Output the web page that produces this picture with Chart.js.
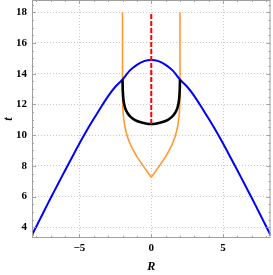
<!DOCTYPE html>
<html>
<head>
<meta charset="utf-8">
<script src="https://cdn.jsdelivr.net/npm/chart.js@4"></script>
<style>
  html, body { margin: 0; padding: 0; background: #fff; }
</style>
</head>
<body>
<canvas id="chart" width="273" height="275"></canvas>
<script>
// values
const blueR = [-8.3, -8, -7.5, -7, -6.5, -6, -5.5, -5, -4.5, -4, -3.5, -3, -2.5, -2, -1.5, -1, -0.5, 0,
  0.5, 1, 1.5, 2, 2.5, 3, 3.5, 4, 4.5, 5, 5.5, 6, 6.5, 7, 7.5, 8, 8.3];
const blueT = [3.5, 4.05, 4.98, 5.9, 6.8, 7.7, 8.58, 9.45, 10.28, 11.06, 11.82, 12.54, 13.15, 13.62, 14.2, 14.58, 14.82, 14.9,
  14.82, 14.58, 14.2, 13.62, 13.15, 12.54, 11.82, 11.06, 10.28, 9.45, 8.58, 7.7, 6.8, 5.9, 4.98, 4.05, 3.5];

// orange curve, left and right branches meeting in the cusp at R = 0
const orangeLeftR = [-2, -2, -2, -1.99, -1.96, -1.9, -1.8, -1.67, -1.5, -1.3, -1.0, -0.6, -0.3, 0];
const orangeLeftT = [18, 15, 13, 12.2, 11.5, 10.95, 10.4, 9.95, 9.5, 9.1, 8.6, 8.05, 7.65, 7.26];
const orangeRightR = [0, 0.3, 0.6, 1.0, 1.3, 1.5, 1.67, 1.8, 1.9, 1.96, 1.99, 2, 2, 2];
const orangeRightT = [7.26, 7.65, 8.05, 8.6, 9.1, 9.5, 9.95, 10.4, 10.95, 11.5, 12.2, 13, 15, 18];

const blackR = [-2, -1.98, -1.94, -1.87, -1.75, -1.55, -1.3, -1.0, -0.6, -0.3, 0,
  0.3, 0.6, 1.0, 1.3, 1.55, 1.75, 1.87, 1.94, 1.98, 2];
const blackT = [13.62, 12.9, 12.35, 11.95, 11.6, 11.3, 11.08, 10.92, 10.8, 10.74, 10.72,
  10.74, 10.8, 10.92, 11.08, 11.3, 11.6, 11.95, 12.35, 12.9, 13.62];

const redR = [0, 0];
const redT = [10.72, 18];

// ticks
const xTicks = [-5, 0, 5];
const yTicks = [4, 6, 8, 10, 12, 14, 16, 18];
const xMinor = [-8, -7, -6, -4, -3, -2, -1, 1, 2, 3, 4, 6, 7, 8];
const yMinor = [3.5, 4.5, 5, 5.5, 6.5, 7, 7.5, 8.5, 9, 9.5, 10.5, 11, 11.5, 12.5, 13, 13.5, 14.5, 15, 15.5, 16.5, 17, 17.5, 18.5];

const pts = (xs, ys) => xs.map((x, i) => ({ x: x, y: ys[i] }));

const FRAME = '#a0a0a0';
const ORANGE = '#ff9a30';

// frame with inward ticks on all four sides
const framePlugin = {
  id: 'frame',
  afterDatasetsDraw(chart) {
    const { ctx, chartArea: a, scales } = chart;
    ctx.save();
    ctx.strokeStyle = FRAME;
    ctx.lineWidth = 1;
    ctx.beginPath();
    const tickX = (list, len) => {
      list.forEach(v => {
        const px = Math.round(scales.x.getPixelForValue(v)) + 0.5;
        ctx.moveTo(px, a.bottom); ctx.lineTo(px, a.bottom - len);
        ctx.moveTo(px, a.top); ctx.lineTo(px, a.top + len);
      });
    };
    const tickY = (list, len) => {
      list.forEach(v => {
        const py = Math.round(scales.y.getPixelForValue(v)) + 0.5;
        ctx.moveTo(a.left, py); ctx.lineTo(a.left + len, py);
        ctx.moveTo(a.right, py); ctx.lineTo(a.right - len, py);
      });
    };
    tickX(xTicks, 4); tickX(xMinor, 2);
    tickY(yTicks, 4); tickY(yMinor, 2);
    ctx.stroke();
    ctx.strokeRect(a.left + 0.5, a.top + 0.5, a.right - a.left - 1, a.bottom - a.top - 1);
    ctx.restore();
  }
};

const tickFont = { family: 'Liberation Serif', size: 11, weight: 'bold' };
const titleFont = { family: 'Liberation Serif', size: 12, weight: 'bold', style: 'italic' };

new Chart(document.getElementById('chart').getContext('2d'), {
  type: 'scatter',
  data: {
    datasets: [
      { data: pts(redR, redT), borderColor: '#ff0000', borderWidth: 2, borderDash: [5, 2], order: 0 },
      { data: pts(blackR, blackT), borderColor: '#000000', borderWidth: 2.6, tension: 0.3, order: 1 },
      { data: pts(blueR, blueT), borderColor: '#0000ff', borderWidth: 2, tension: 0.3, order: 2 },
      { data: pts(orangeLeftR, orangeLeftT), borderColor: ORANGE, borderWidth: 1.6, tension: 0.25, order: 3 },
      { data: pts(orangeRightR, orangeRightT), borderColor: ORANGE, borderWidth: 1.6, tension: 0.25, order: 3 }
    ]
  },
  options: {
    responsive: false,
    animation: false,
    showLine: true,
    elements: { point: { radius: 0 }, line: { tension: 0, fill: false } },
    layout: { padding: { top: 0, right: 2.5, left: 0, bottom: 0 } },
    plugins: { legend: { display: false }, tooltip: { enabled: false } },
    scales: {
      x: {
        type: 'linear', min: -8.3, max: 8.3,
        afterBuildTicks: (s) => { s.ticks = xTicks.map(v => ({ value: v })); },
        afterFit: (s) => { s.height = 37; s.paddingLeft = 0; s.paddingRight = 0; },
        ticks: {
          font: tickFont, color: '#000', padding: 4,
          callback: (v) => String(v).replace('-', '\u2212')
        },
        grid: { color: '#c8c8c8', lineWidth: 1, drawTicks: false },
        border: { display: false, dash: [1, 2] },
        title: { display: true, text: 'R', font: titleFont, color: '#000', padding: { top: 0, bottom: 1 } }
      },
      y: {
        type: 'linear', min: 3.3, max: 18.8,
        afterBuildTicks: (s) => { s.ticks = yTicks.map(v => ({ value: v })); },
        afterFit: (s) => { s.width = 32; s.paddingTop = 0; s.paddingBottom = 0; },
        ticks: { font: tickFont, color: '#000', padding: 5 },
        grid: { color: '#c8c8c8', lineWidth: 1, drawTicks: false },
        border: { display: false, dash: [1, 2] },
        title: { display: true, text: 't', font: titleFont, color: '#000', padding: { top: 2, bottom: 0 } }
      }
    }
  },
  plugins: [framePlugin]
});
</script>
</body>
</html>
